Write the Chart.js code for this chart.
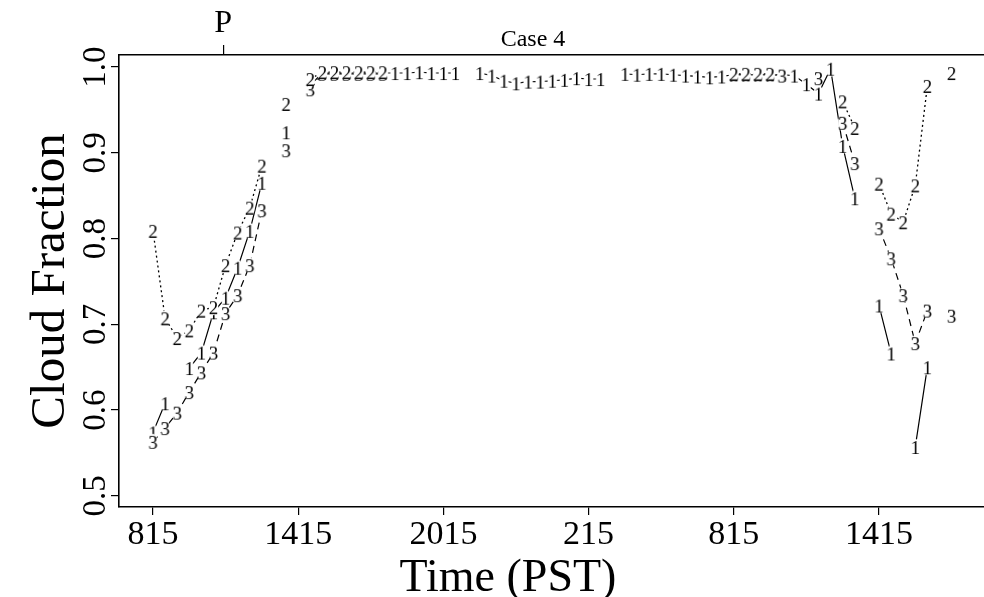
<!DOCTYPE html>
<html>
<head>
<meta charset="utf-8">
<script src="https://cdn.jsdelivr.net/npm/chart.js@4.4.0/dist/chart.umd.min.js"></script>
<style>
  html, body { margin: 0; padding: 0; background: #fff; }
</style>
</head>
<body>
<canvas id="myChart" width="984" height="597"></canvas>
<script>
// half hour samples (PST), first one at 0815
const clock = [
  "815","845","915","945","1015","1045","1115","1145","1215","1245","1315","1345",
  "1415","1445","1515","1545","1615","1645","1715","1745","1815","1845","1915","1945",
  "2015","2045","2115","2145","2215","2245","2315","2345","015","045","115","145",
  "215","245","315","345","415","445","515","545","615","645","715","745",
  "815","845","915","945","1015","1045","1115","1145","1215","1245","1315","1345",
  "1415","1445","1515","1545","1615","1645","1715"
];

// series 1 (solid)
const cf1 = [
  0.574, 0.608, null, 0.649, 0.667, 0.714, 0.731, 0.766, 0.809, 0.865, null, 0.924,
  null, 0.979, 0.993, 0.993, 0.993, 0.993, 0.993, 0.993, 0.993, 0.993, 0.994, 0.993,
  0.993, 0.993, null, 0.993, 0.990, 0.984, 0.981, 0.983, 0.983, 0.984, 0.985, 0.987,
  0.986, 0.986, null, 0.992, 0.991, 0.992, 0.992, 0.991, 0.990, 0.989, 0.988, 0.989,
  0.991, 0.991, 0.991, 0.991, 0.991, 0.990, 0.980, 0.969, 0.998, 0.908, 0.847, null,
  0.722, 0.666, null, 0.557, 0.650, null, null
];
// series 2 (dotted)
const cf2 = [
  0.809, 0.707, 0.684, 0.693, 0.716, 0.720, 0.769, 0.807, 0.836, 0.885, null, 0.957,
  null, 0.986, 0.994, 0.994, 0.994, 0.994, 0.994, 0.994, null, null, null, null,
  null, null, null, null, null, null, null, null, null, null, null, null,
  null, null, null, null, null, null, null, null, null, null, null, null,
  0.992, 0.992, 0.992, 0.992, null, null, null, null, null, 0.960, 0.929, null,
  0.864, 0.829, 0.819, 0.862, 0.978, null, 0.993
];
// series 3 (dashed)
const cf3 = [
  0.563, 0.579, 0.597, 0.621, 0.644, 0.667, 0.713, 0.734, 0.769, 0.833, null, 0.903,
  null, 0.974, 0.992, 0.992, 0.992, 0.992, 0.992, 0.992, null, null, null, null,
  null, null, null, null, null, null, null, null, null, null, null, null,
  null, null, null, null, null, null, null, null, null, null, null, null,
  0.991, 0.991, 0.991, 0.991, 0.990, null, null, 0.987, null, 0.935, 0.888, null,
  0.812, 0.777, 0.734, 0.678, 0.716, null, 0.710
];

const tickHours = [0, 6, 12, 18, 24, 30];
const tickLabels = ["815", "1415", "2015", "215", "815", "1415"];
const yTicks = [0.5, 0.6, 0.7, 0.8, 0.9, 1.0];
const markHour = 2.9;
const markLabel = "P";

const serif = '"Liberation Serif", "DejaVu Serif", serif';

// hours since the first sample, wrapping past midnight
let hours = [];
let prev = -1, dayOff = 0;
clock.forEach((c) => {
  const n = parseInt(c, 10);
  let m = Math.floor(n / 100) * 60 + (n % 100);
  if (m < prev) dayOff += 24 * 60;
  prev = m;
  hours.push((m + dayOff - 495) / 60);
});

// digit used as plotting symbol, with a white gap round it (like type="b")
function digit(d) {
  const c = document.createElement("canvas");
  c.width = 15;
  c.height = 20;
  const g = c.getContext("2d");
  g.fillStyle = "#fff";
  g.beginPath();
  g.ellipse(7.5, 10, 4.8, 8, 0, 0, Math.PI * 2);
  g.fill();
  g.fillStyle = "#000";
  g.font = "19px " + serif;
  g.textAlign = "center";
  g.textBaseline = "alphabetic";
  g.fillText(d, 7.5, 16.5);
  return c;
}

const toXY = (arr) => arr.map((v, i) => ({ x: hours[i], y: v }));

const caseText = {
  id: "caseText",
  afterDraw(chart) {
    const ctx = chart.ctx;
    ctx.save();
    ctx.fillStyle = "#000";
    ctx.textAlign = "center";
    ctx.textBaseline = "alphabetic";
    ctx.font = "24px " + serif;
    ctx.fillText("Case 4", 533, 46);
    ctx.font = "46px " + serif;
    ctx.fillText("Time (PST)", 508, 591);
    ctx.restore();
  },
};

const ctx = document.getElementById("myChart");
const myChart = new Chart(ctx, {
  type: "line",
  data: {
    datasets: [
      {
        label: "1",
        data: toXY(cf1),
        borderColor: "#000",
        borderWidth: 1.2,
        pointStyle: digit("1"),
        pointRadius: 3,
        order: 2,
      },
      {
        label: "2",
        data: toXY(cf2),
        borderColor: "#000",
        borderWidth: 1.3,
        borderDash: [2, 3],
        pointStyle: digit("2"),
        pointRadius: 3,
        order: 0,
      },
      {
        label: "3",
        data: toXY(cf3),
        borderColor: "#000",
        borderWidth: 1.2,
        borderDash: [7, 5],
        pointStyle: digit("3"),
        pointRadius: 3,
        order: 1,
      },
    ],
  },
  options: {
    responsive: false,
    animation: false,
    layout: { autoPadding: false, padding: 0 },
    elements: { line: { tension: 0 } },
    plugins: {
      legend: { display: false },
      tooltip: { enabled: false },
    },
    scales: {
      x: {
        type: "linear",
        position: "bottom",
        min: -1.405,
        max: 34.34,
        afterFit: (s) => { s.height = 90; },
        afterBuildTicks: (s) => { s.ticks = tickHours.map((v) => ({ value: v })); },
        grid: { drawOnChartArea: false, drawTicks: true, tickLength: 8, color: "#000", lineWidth: 1.2 },
        border: { display: true, color: "#000", width: 1.6 },
        ticks: {
          color: "#000",
          font: { family: serif, size: 34 },
          padding: 0,
          maxRotation: 0,
          autoSkip: false,
          callback: (v, i) => tickLabels[i],
        },
      },
      x2: {
        type: "linear",
        position: "top",
        min: -1.405,
        max: 34.34,
        afterFit: (s) => { s.height = 55; },
        afterBuildTicks: (s) => { s.ticks = [{ value: markHour }]; },
        grid: { drawOnChartArea: false, drawTicks: true, tickLength: 10, color: "#000", lineWidth: 1.2 },
        border: { display: true, color: "#000", width: 1.6 },
        ticks: {
          color: "#000",
          font: { family: serif, size: 32 },
          padding: 2,
          maxRotation: 0,
          callback: () => markLabel,
        },
      },
      y: {
        min: 0.487,
        max: 1.014,
        afterFit: (s) => { s.width = 119; },
        afterBuildTicks: (s) => { s.ticks = yTicks.map((v) => ({ value: v })); },
        grid: { drawOnChartArea: false, drawTicks: true, tickLength: 8, color: "#000", lineWidth: 1.2 },
        border: { display: true, color: "#000", width: 1.6 },
        ticks: {
          color: "#000",
          font: { family: serif, size: 33 },
          padding: -6,
          minRotation: 90,
          maxRotation: 90,
          crossAlign: "center",
          callback: (v) => v.toFixed(1),
        },
        title: {
          display: true,
          text: "Cloud Fraction",
          color: "#000",
          font: { family: serif, size: 49, lineHeight: 1 },
          padding: { top: 27, bottom: 0 },
        },
      },
    },
  },
  plugins: [caseText],
});
</script>
</body>
</html>
